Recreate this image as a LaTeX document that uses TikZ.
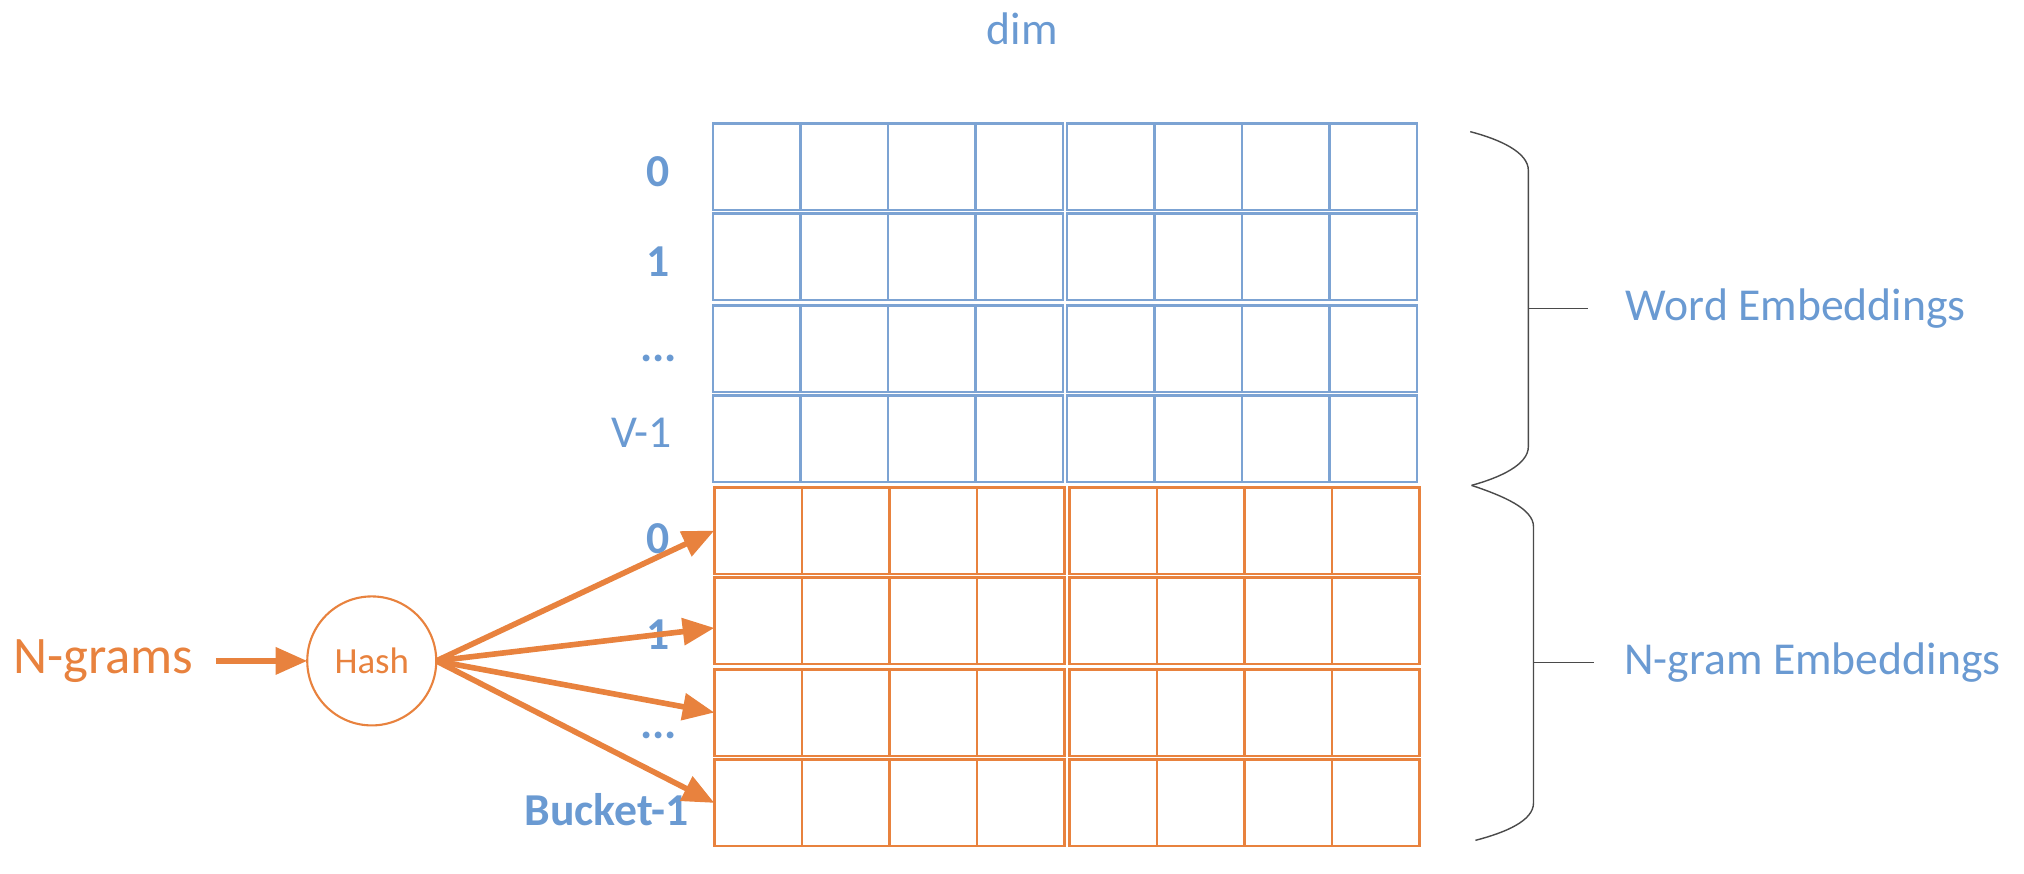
\documentclass[tikz,border=0pt]{standalone}
\usepackage{fontspec}
\setmainfont{Carlito}
\usetikzlibrary{arrows.meta,positioning,calc}
\definecolor{EmbBlue}{HTML}{6A9AD2}
\definecolor{GridBlue}{HTML}{7CA3D3}
\definecolor{EmbOrange}{HTML}{E8823E}
\definecolor{BraceGray}{HTML}{4A4A4A}

\begin{document}
\begin{tikzpicture}[x=0.12908mm,y=-0.12908mm]
  \tikzset{RowStyle/.style = {
    shape          = rectangle,
    draw           = #1,
    line width     = 0.7pt,
    minimum width  = 35mm,
    minimum height = 8.65mm,
    inner sep      = 0pt,
    outer sep      = 0pt,
    path picture   = {
      \draw[#1, line width=0.7pt]
        ($(path picture bounding box.south west)!0.25!(path picture bounding box.south east)$) --
        ($(path picture bounding box.north west)!0.25!(path picture bounding box.north east)$)
        ($(path picture bounding box.south west)!0.5!(path picture bounding box.south east)$) --
        ($(path picture bounding box.north west)!0.5!(path picture bounding box.north east)$)
        ($(path picture bounding box.south west)!0.75!(path picture bounding box.south east)$) --
        ($(path picture bounding box.north west)!0.75!(path picture bounding box.north east)$);
      }
    }
  }
  \tikzset{LabelStyle/.style = {
    text       = EmbBlue,
    inner sep  = 1pt,
    font       = \fontsize{13}{15}\selectfont
    }
  }
  \tikzset{BoldLabelStyle/.style = {
    LabelStyle,
    font       = \fontsize{13}{15}\selectfont\bfseries
    }
  }
  \tikzset{HashStyle/.style = {
    shape         = circle,
    draw          = EmbOrange,
    line width    = 0.6pt,
    minimum size  = 12.9mm,
    inner sep     = 0pt,
    outer sep     = 0pt,
    text          = EmbOrange,
    font          = \fontsize{10.5}{12}\selectfont
    }
  }
  \tikzset{ArrowStyle/.style = {
    draw          = EmbOrange,
    line width    = 1.6pt,
    -{Triangle[length=9pt,width=7.5pt]}
    }
  }
  \tikzset{BraceStyle/.style = {
    draw          = BraceGray,
    line width    = 0.4pt
    }
  }

  \useasboundingbox (0,0) rectangle (1568,677);

  \node[LabelStyle](Dim) at (792,22) {dim};

  % word embedding table
  \node[RowStyle=GridBlue](W0a) at (688,129) {};
  \node[RowStyle=GridBlue](W0b) at (962,129) {};
  \node[RowStyle=GridBlue](W1a) at (688,199) {};
  \node[RowStyle=GridBlue](W1b) at (962,199) {};
  \node[RowStyle=GridBlue](W2a) at (688,270) {};
  \node[RowStyle=GridBlue](W2b) at (962,270) {};
  \node[RowStyle=GridBlue](W3a) at (688,340) {};
  \node[RowStyle=GridBlue](W3b) at (962,340) {};

  % n-gram embedding table
  \node[RowStyle=EmbOrange](G0a) at (689,411) {};
  \node[RowStyle=EmbOrange](G0b) at (964,411) {};
  \node[RowStyle=EmbOrange](G1a) at (689,481) {};
  \node[RowStyle=EmbOrange](G1b) at (964,481) {};
  \node[RowStyle=EmbOrange](G2a) at (689,552) {};
  \node[RowStyle=EmbOrange](G2b) at (964,552) {};
  \node[RowStyle=EmbOrange](G3a) at (689,622) {};
  \node[RowStyle=EmbOrange](G3b) at (964,622) {};

  % row indices
  \node[BoldLabelStyle](WL0) at (510,133) {0};
  \node[BoldLabelStyle](WL1) at (510,203) {1};
  \node[BoldLabelStyle](WL2) at (510,278) {...};
  \node[LabelStyle](WL3) at (497,335) {V-1};
  \node[BoldLabelStyle](GL0) at (510,417) {0};
  \node[BoldLabelStyle](GL1) at (510,492) {1};
  \node[BoldLabelStyle](GL2) at (510,570) {...};
  \node[BoldLabelStyle](GL3) at (470,627) {Bucket-1};

  % hashing
  \node[text=EmbOrange, font=\fontsize{15}{18}\selectfont](Ngrams) at (80,512) {N-grams};
  \node[HashStyle](Hash) at (288,512) {Hash};
  \draw[ArrowStyle, shorten <=1mm](Ngrams) -- (Hash);
  \draw[ArrowStyle](Hash.east) -- (G0a.west);
  \draw[ArrowStyle](Hash.east) -- ([yshift=-0.7mm]G1a.west);
  \draw[ArrowStyle](Hash.east) -- (G2a.west);
  \draw[ArrowStyle](Hash.east) -- (G3a.west);

  % braces
  \coordinate (WTick) at (1230,239);
  \coordinate (GTick) at (1235,513);
  \draw[BraceStyle] (1139,102) .. controls (1162,108) and (1184,118) .. (1184,132)
    -- (1184,346) .. controls (1184,360) and (1162,370) .. (1140,376);
  \draw[BraceStyle] (1184,239) -- (WTick);
  \draw[BraceStyle] (1140,376) .. controls (1164,384) and (1188,394) .. (1188,408)
    -- (1188,622) .. controls (1188,636) and (1166,645) .. (1143,651);
  \draw[BraceStyle] (1188,513) -- (GTick);
  \node[LabelStyle, anchor=west, right=3.4mm of WTick](WordEmb) {Word Embeddings};
  \node[LabelStyle, anchor=west, right=2.6mm of GTick](NgramEmb) {N-gram Embeddings};

\end{tikzpicture}
\end{document}
